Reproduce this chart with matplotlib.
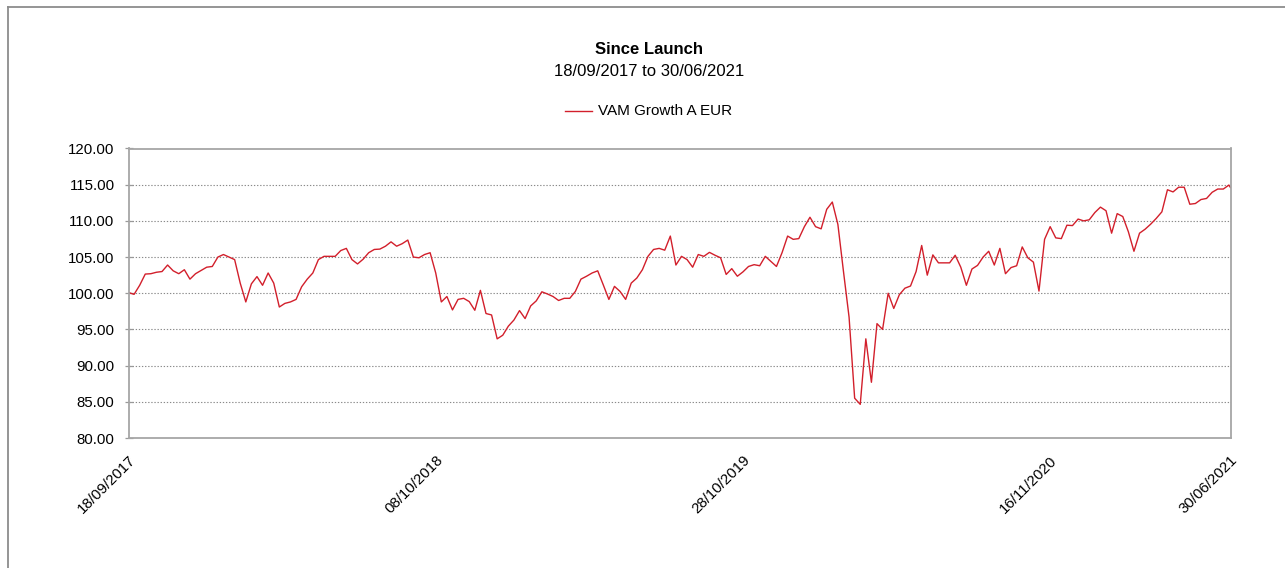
import matplotlib
matplotlib.use("Agg")
import matplotlib.pyplot as plt
from matplotlib.lines import Line2D
import pandas as pd

plt.rcParams['font.family'] = ['Liberation Sans', 'DejaVu Sans']

title = "Since Launch"
subtitle = "18/09/2017 to 30/06/2021"
series_name = "VAM Growth A EUR"
start_date = "2017-09-18"
end_date = "2021-06-30"
tick_dates = ["2017-09-18", "2018-10-08", "2019-10-28", "2020-11-16", "2021-06-30"]
y_ticks = [80, 85, 90, 95, 100, 105, 110, 115, 120]

# weekly values (from 18/09/2017), final value on 30/06/2021
weekly_values = [
    100.1, 99.85, 101.1, 102.65, 102.7, 102.9, 103.0, 103.9, 103.1, 102.7,
    103.25, 101.95, 102.7, 103.15, 103.6, 103.7, 105.0, 105.35, 105.0, 104.65,
    101.4, 98.8, 101.3, 102.3, 101.1, 102.8, 101.4, 98.1, 98.6, 98.8,
    99.15, 100.9, 101.95, 102.8, 104.65, 105.1, 105.1, 105.1, 105.9, 106.2,
    104.65, 104.05, 104.7, 105.6, 106.05, 106.1, 106.5, 107.1, 106.5, 106.85,
    107.35, 105.0, 104.9, 105.35, 105.6, 102.8, 98.8, 99.55, 97.7, 99.15,
    99.3, 98.85, 97.65, 100.4, 97.2, 97.0, 93.7, 94.2, 95.45, 96.3,
    97.6, 96.5, 98.25, 98.95, 100.2, 99.9, 99.55, 99.0, 99.3, 99.3,
    100.25, 101.95, 102.35, 102.8, 103.1, 101.15, 99.15, 100.95, 100.25, 99.15,
    101.4, 102.1, 103.25, 105.1, 106.05, 106.2, 105.95, 107.9, 103.9, 105.1,
    104.65, 103.6, 105.35, 105.1, 105.65, 105.25, 104.9, 102.6, 103.4, 102.35,
    102.95, 103.7, 103.95, 103.8, 105.1, 104.4, 103.7, 105.6, 107.9, 107.45,
    107.55, 109.2, 110.5, 109.2, 108.9, 111.6, 112.6, 109.5, 103.0, 96.7,
    85.5, 84.65, 93.7, 87.7, 95.8, 95.0, 100.0, 97.9, 99.8, 100.7,
    101.0, 103.0, 106.6, 102.5, 105.3, 104.2, 104.2, 104.2, 105.25, 103.6,
    101.1, 103.35, 103.85, 105.0, 105.8, 103.9, 106.2, 102.7, 103.55, 103.8,
    106.4, 104.9, 104.3, 100.3, 107.45, 109.2, 107.65, 107.55, 109.4, 109.35,
    110.25, 110.0, 110.15, 111.15, 111.9, 111.4, 108.3, 111.0, 110.6, 108.5,
    105.8, 108.3, 108.85, 109.55, 110.35, 111.25, 114.3, 114.0, 114.65, 114.65,
    112.3, 112.4, 112.95, 113.1, 113.95, 114.4, 114.4, 114.95,
]
final_value = 114.6

dates = list(pd.date_range(start_date, periods=len(weekly_values), freq="7D"))
dates.append(pd.Timestamp(end_date))
values = weekly_values + [final_value]

W, H = 1285, 568
fig = plt.figure(figsize=(W / 100, H / 100), dpi=100)
fig.patch.set_facecolor("white")

# outer border (top and left)
border_col = "#8c8c8c"
fig.add_artist(Line2D([8 / W, 1.0], [1 - 6.5 / H, 1 - 6.5 / H], color=border_col, lw=1.3, transform=fig.transFigure))
fig.add_artist(Line2D([8 / W, 8 / W], [1 - 6.5 / H, 0.0], color=border_col, lw=1.3, transform=fig.transFigure))

ax = fig.add_axes([128.5 / W, (H - 438) / H, (1230.5 - 128.5) / W, (438 - 148.5) / H])
line_col = "#d21f2b"
ax.plot(dates, values, color=line_col, lw=1.0, label=series_name)

ax.set_xlim(pd.Timestamp(start_date), pd.Timestamp(end_date))
ax.set_ylim(80, 120)
ax.set_yticks(y_ticks)
ax.set_yticklabels([f"{v:.2f}" for v in y_ticks], fontsize=10.8)
ax.set_xticks([pd.Timestamp(d) for d in tick_dates])
ax.set_xticklabels([pd.Timestamp(d).strftime("%d/%m/%Y") for d in tick_dates],
                   rotation=45, ha="right", rotation_mode="anchor", fontsize=10.8)
ax.tick_params(axis="x", length=0, pad=11)
ax.tick_params(axis="y", direction="inout", length=6, width=0.9, color="#999999", pad=7)

for v in y_ticks[1:-1]:
    ax.axhline(v, color="#8a8a8a", lw=0.8, ls=(0, (1.2, 1.6)), zorder=0)

for s in ax.spines.values():
    s.set_color("#a6a6a6")
    s.set_linewidth(1.3)

fig.text(649 / W, 1 - 50 / H, title, ha="center", va="center", fontsize=12, fontweight="bold")
fig.text(649 / W, 1 - 71 / H, subtitle, ha="center", va="center", fontsize=12)

leg_y = 1 - 111 / H
fig.add_artist(Line2D([565 / W, 592 / W], [leg_y, leg_y], color=line_col, lw=1.0, transform=fig.transFigure))
fig.text(598 / W, leg_y, series_name, ha="left", va="center", fontsize=11)

fig.savefig("out.png", dpi=100)
